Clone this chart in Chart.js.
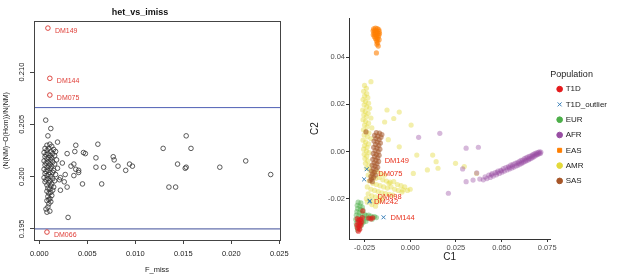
<!DOCTYPE html>
<html>
<head>
<meta charset="utf-8">
<script src="https://cdn.jsdelivr.net/npm/chart.js@4.4.1/dist/chart.umd.min.js"></script>
<style>
html, body { margin: 0; padding: 0; background: #fff; }
#wrap { position: relative; width: 617px; height: 275px; overflow: hidden; }
#left { position: absolute; left: 0; top: 0; }
#right { position: absolute; left: 300px; top: 0; }
</style>
</head>
<body>
<div id="wrap">
  <canvas id="left" width="300" height="275"></canvas>
  <canvas id="right" width="317" height="275"></canvas>
</div>
<script>
// ---------- left panel: het_vs_imiss ----------
var hetTicksX = [0, 0.005, 0.010, 0.015, 0.020, 0.025];
var hetTicksY = [0.195, 0.200, 0.205, 0.210];
var hetCutoffs = [0.1950, 0.2066];
// [F_miss, heterozygosity]
var hetSamples = [
  [0.00067,0.2054],[0.0012,0.2046],[0.0009,0.2039],[0.0153,0.2039],[0.0019,0.2033],[0.0038,0.2030],
  [0.0061,0.2031],[0.0129,0.2027],[0.0158,0.2027],[0.0029,0.2022],[0.0037,0.2024],[0.0046,0.2023],
  [0.0048,0.2022],[0.0059,0.2018],[0.0077,0.2019],[0.0078,0.2016],[0.0215,0.2015],[0.0024,0.2013],
  [0.0033,0.2010],[0.0036,0.2012],[0.0059,0.2009],[0.0067,0.2009],[0.0082,0.2010],[0.0094,0.2012],
  [0.0097,0.2010],[0.0144,0.2012],[0.0152,0.2008],[0.0153,0.2009],[0.0188,0.2009],[0.0090,0.2006],
  [0.0038,0.2007],[0.0041,0.2006],[0.0041,0.2004],[0.0027,0.2002],[0.0036,0.2001],[0.0241,0.2002],
  [0.0022,0.1999],[0.0021,0.1997],[0.0026,0.1995],[0.0029,0.1990],[0.0022,0.1987],[0.0045,0.1993],
  [0.0065,0.1993],[0.0135,0.1990],[0.0142,0.1990],[0.0030,0.1961],
  [0.0008,0.2030],[0.0011,0.2031],[0.0013,0.2029],[0.0006,0.2027],[0.0010,0.2027],[0.0015,0.2026],
  [0.0008,0.2025],[0.0012,0.2024],[0.0017,0.2024],[0.0005,0.2023],[0.0009,0.2022],[0.0014,0.2022],
  [0.0007,0.2021],[0.0011,0.2020],[0.0016,0.2020],[0.0006,0.2019],[0.0010,0.2018],[0.0013,0.2018],
  [0.0008,0.2017],[0.0012,0.2016],[0.0018,0.2016],[0.0005,0.2015],[0.0009,0.2014],[0.0014,0.2014],
  [0.0007,0.2013],[0.0011,0.2012],[0.0016,0.2012],[0.0006,0.2011],[0.0010,0.2010],[0.0013,0.2010],
  [0.0008,0.2009],[0.0012,0.2008],[0.0019,0.2008],[0.0005,0.2007],[0.0009,0.2006],[0.0015,0.2006],
  [0.0007,0.2005],[0.0011,0.2004],[0.0014,0.2004],[0.0006,0.2003],[0.0010,0.2002],[0.0017,0.2002],
  [0.0008,0.2001],[0.0012,0.2000],[0.0005,0.1999],[0.0009,0.1998],[0.0014,0.1998],[0.0007,0.1997],
  [0.0011,0.1996],[0.0016,0.1996],[0.0006,0.1995],[0.0010,0.1994],[0.0013,0.1993],[0.0008,0.1992],
  [0.0012,0.1991],[0.0015,0.1990],[0.0009,0.1989],[0.0011,0.1988],[0.0014,0.1987],[0.0008,0.1986],
  [0.0012,0.1985],[0.0010,0.1984],[0.0013,0.1982],[0.0009,0.1981],[0.0011,0.1979],[0.0008,0.1977],
  [0.0010,0.1974],[0.0009,0.1971],[0.0007,0.1969],[0.0008,0.1966],[0.0011,0.1967],[0.0010,0.1978],
  [0.0012,0.1976]
];
var hetOutlierIds = ['DM149', 'DM144', 'DM075', 'DM066'];
var hetOutlierFmiss = [0.0009, 0.0011, 0.0011, 0.0008];
var hetOutlierHet = [0.2142, 0.2094, 0.2078, 0.1947];

// ---------- right panel: PCA ----------
var pcaTicksX = [-0.025, 0, 0.025, 0.05, 0.075];
var pcaTicksY = [-0.02, 0, 0.02, 0.04];
var popNames = ['T1D', 'T1D_outlier', 'EUR', 'AFR', 'EAS', 'AMR', 'SAS'];
var popColors = ['#e41a1c', '#377eb8', '#4daf4a', '#984ea3', '#ff7f00', '#e3d93a', '#a65628'];

var pcaT1D = [
  [-0.0290,-0.0285],[-0.0280,-0.0290],[-0.0270,-0.0288],[-0.0286,-0.0300],[-0.0275,-0.0305],[-0.0265,-0.0298],
  [-0.0292,-0.0312],[-0.0280,-0.0318],[-0.0270,-0.0312],[-0.0288,-0.0325],[-0.0276,-0.0330],[-0.0284,-0.0338],
  [-0.0260,-0.0252],[-0.0228,-0.0282],[-0.0215,-0.0286],[-0.0205,-0.0281],[-0.0262,-0.0280]
];
var pcaOutlier = [[-0.0238,-0.0075],[-0.0252,-0.0118],[-0.0223,-0.0213],[-0.0221,-0.0209],[-0.0146,-0.0279]];
var pcaEUR = [
  [-0.0285,-0.0215],[-0.0270,-0.0218],[-0.0290,-0.0228],[-0.0275,-0.0232],[-0.0262,-0.0236],[-0.0288,-0.0242],
  [-0.0272,-0.0246],[-0.0258,-0.0250],[-0.0292,-0.0255],[-0.0278,-0.0258],[-0.0264,-0.0262],[-0.0250,-0.0266],
  [-0.0240,-0.0272],[-0.0228,-0.0270],[-0.0215,-0.0274],[-0.0205,-0.0278],[-0.0195,-0.0276],[-0.0185,-0.0280],
  [-0.0295,-0.0270],[-0.0282,-0.0274],[-0.0268,-0.0278],[-0.0255,-0.0282],[-0.0238,-0.0285],[-0.0222,-0.0283],
  [-0.0208,-0.0287],[-0.0298,-0.0288],[-0.0285,-0.0292],[-0.0270,-0.0296],[-0.0256,-0.0300],[-0.0242,-0.0296],
  [-0.0295,-0.0305],[-0.0282,-0.0310],[-0.0268,-0.0314],[-0.0292,-0.0320],[-0.0278,-0.0326],[-0.0288,-0.0333],
  [-0.0265,-0.0304]
];
var pcaAFR = [
  [0.0046,0.0060],[0.0162,0.0077],[0.0287,-0.0074],[0.0373,0.0018],[0.0306,0.0014],[0.0209,-0.0177],
  [0.0306,-0.0128],[0.0344,-0.0121],[0.0381,-0.0117],[0.0364,-0.0091],
  [0.0400,-0.0120],[0.0410,-0.0108],[0.0420,-0.0115],[0.0430,-0.0100],[0.0438,-0.0110],[0.0448,-0.0094],
  [0.0455,-0.0104],[0.0465,-0.0090],[0.0472,-0.0099],[0.0480,-0.0083],[0.0488,-0.0093],[0.0495,-0.0080],
  [0.0502,-0.0088],[0.0510,-0.0072],[0.0516,-0.0083],[0.0523,-0.0068],[0.0530,-0.0078],[0.0537,-0.0064],
  [0.0543,-0.0074],[0.0550,-0.0058],[0.0556,-0.0070],[0.0562,-0.0055],[0.0568,-0.0066],[0.0574,-0.0050],
  [0.0580,-0.0061],[0.0585,-0.0047],[0.0590,-0.0058],[0.0596,-0.0043],[0.0601,-0.0054],[0.0606,-0.0038],
  [0.0611,-0.0050],[0.0616,-0.0036],[0.0620,-0.0046],[0.0625,-0.0030],[0.0630,-0.0042],[0.0634,-0.0027],
  [0.0639,-0.0038],[0.0643,-0.0024],[0.0648,-0.0035],[0.0652,-0.0021],[0.0657,-0.0031],[0.0661,-0.0018],
  [0.0665,-0.0028],[0.0669,-0.0014],[0.0673,-0.0024],[0.0677,-0.0011],[0.0681,-0.0020],[0.0685,-0.0008],
  [0.0689,-0.0016],[0.0693,-0.0006],[0.0697,-0.0013],[0.0701,-0.0004],[0.0705,-0.0010],[0.0708,-0.0002],
  [0.0712,-0.0008],[0.0715,-0.0003],
  [0.0445,-0.0099],[0.0500,-0.0082],[0.0560,-0.0062],[0.0610,-0.0045],[0.0650,-0.0030],[0.0690,-0.0012],
  [0.0670,-0.0020],[0.0630,-0.0036],[0.0590,-0.0051],[0.0540,-0.0068],[0.0475,-0.0090]
];
var pcaEAS = [
  [-0.0200,0.0520],[-0.0190,0.0523],[-0.0180,0.0521],[-0.0172,0.0517],[-0.0203,0.0512],[-0.0193,0.0513],
  [-0.0183,0.0511],[-0.0170,0.0509],[-0.0198,0.0503],[-0.0188,0.0505],[-0.0178,0.0502],[-0.0168,0.0500],
  [-0.0202,0.0495],[-0.0192,0.0496],[-0.0182,0.0494],[-0.0172,0.0492],[-0.0196,0.0487],[-0.0186,0.0485],
  [-0.0176,0.0484],[-0.0190,0.0478],[-0.0180,0.0476],[-0.0170,0.0474],[-0.0184,0.0468],[-0.0178,0.0462],
  [-0.0182,0.0455],[-0.0175,0.0447],[-0.0185,0.0418]
];
var pcaAMR = [
  [-0.0250,0.0280],[-0.0240,0.0268],[-0.0255,0.0255],[-0.0238,0.0245],[-0.0250,0.0235],[-0.0232,0.0228],
  [-0.0258,0.0220],[-0.0245,0.0212],[-0.0228,0.0205],[-0.0252,0.0198],[-0.0238,0.0190],[-0.0222,0.0183],
  [-0.0260,0.0176],[-0.0246,0.0170],[-0.0230,0.0162],[-0.0254,0.0155],[-0.0240,0.0148],[-0.0215,0.0142],
  [-0.0258,0.0135],[-0.0244,0.0128],[-0.0228,0.0120],[-0.0250,0.0112],[-0.0236,0.0105],[-0.0210,0.0100],
  [-0.0256,0.0092],[-0.0242,0.0085],[-0.0226,0.0078],[-0.0252,0.0070],[-0.0235,0.0062],[-0.0215,0.0055],
  [-0.0258,0.0048],[-0.0244,0.0040],[-0.0228,0.0032],[-0.0250,0.0025],[-0.0236,0.0018],[-0.0255,0.0010],
  [-0.0240,0.0002],[-0.0226,-0.0005],[-0.0252,-0.0012],[-0.0238,-0.0020],[-0.0248,-0.0030],[-0.0232,-0.0040],
  [-0.0245,-0.0050],[-0.0225,-0.0060],[-0.0240,-0.0070],
  [-0.0215,0.0296],[-0.0127,0.0176],[-0.0060,0.0167],[-0.0090,0.0140],[-0.0140,0.0125],[0.0005,0.0112],
  [-0.0120,0.0050],[-0.0060,0.0020],[0.0036,-0.0015],[0.0123,-0.0015],[0.0142,-0.0043],[0.0152,-0.0071],
  [0.0094,-0.0078],[0.0248,-0.0050],[0.0296,-0.0064],[0.0363,-0.0093],[0.0017,-0.0093],[-0.0040,-0.0163],
  [0.0000,-0.0160],[-0.0116,-0.0135],
  [-0.0220,-0.0080],[-0.0200,-0.0090],[-0.0180,-0.0085],[-0.0160,-0.0095],[-0.0140,-0.0100],[-0.0230,-0.0100],
  [-0.0210,-0.0110],[-0.0190,-0.0115],[-0.0170,-0.0110],[-0.0150,-0.0120],[-0.0130,-0.0125],[-0.0110,-0.0130],
  [-0.0090,-0.0128],[-0.0070,-0.0140],[-0.0050,-0.0145],[-0.0030,-0.0150],[-0.0225,-0.0125],[-0.0205,-0.0135],
  [-0.0185,-0.0140],[-0.0165,-0.0145],[-0.0145,-0.0150],[-0.0125,-0.0155],[-0.0105,-0.0150],[-0.0085,-0.0160],
  [-0.0065,-0.0165],[-0.0045,-0.0172],[-0.0015,-0.0165],[-0.0235,-0.0150],[-0.0215,-0.0160],[-0.0195,-0.0165],
  [-0.0175,-0.0170],[-0.0155,-0.0175],[-0.0135,-0.0178],[-0.0115,-0.0182],[-0.0095,-0.0185],[-0.0230,-0.0180],
  [-0.0210,-0.0188],[-0.0190,-0.0192],[-0.0170,-0.0195],[-0.0150,-0.0198],[-0.0220,-0.0205],[-0.0200,-0.0210],
  [-0.0180,-0.0215],[-0.0165,-0.0208],[-0.0210,-0.0225],[-0.0190,-0.0232],[-0.0235,-0.0215],[-0.0240,-0.0200]
];
var pcaSAS = [
  [-0.0185,0.0080],[-0.0168,0.0078],[-0.0155,0.0072],[-0.0195,0.0068],[-0.0178,0.0065],[-0.0160,0.0060],
  [-0.0188,0.0055],[-0.0170,0.0050],[-0.0198,0.0044],[-0.0180,0.0040],[-0.0163,0.0036],[-0.0190,0.0030],
  [-0.0172,0.0025],[-0.0200,0.0018],[-0.0182,0.0015],[-0.0166,0.0010],[-0.0192,0.0004],[-0.0175,-0.0002],
  [-0.0202,-0.0008],[-0.0185,-0.0012],[-0.0170,-0.0016],[-0.0195,-0.0022],[-0.0178,-0.0027],[-0.0205,-0.0033],
  [-0.0188,-0.0037],[-0.0173,-0.0042],[-0.0198,-0.0048],[-0.0182,-0.0052],[-0.0208,-0.0058],[-0.0192,-0.0062],
  [-0.0178,-0.0067],[-0.0202,-0.0072],[-0.0187,-0.0077],[-0.0212,-0.0083],[-0.0196,-0.0088],[-0.0206,-0.0095],
  [-0.0190,-0.0100],[-0.0215,-0.0105],[-0.0200,-0.0110],[-0.0212,-0.0117],[-0.0220,-0.0123],[-0.0207,-0.0128],
  [-0.0242,0.0083]
];
var pcaLabelIds = ['DM149', 'DM075', 'DM098', 'DM242', 'DM144'];
var pcaLabelC1 = [-0.0140, -0.0175, -0.0179, -0.0198, -0.0108];
var pcaLabelC2 = [-0.0040, -0.0097, -0.0192, -0.0213, -0.0283];

function pts(arr) { return arr.map(function (p) { return {x: p[0], y: p[1]}; }); }
function fixedTicks(list) {
  return function (scale) { scale.ticks = list.map(function (v) { return {value: v}; }); };
}
var FONT = "'Liberation Sans', Arial, sans-serif";
Chart.defaults.font.family = FONT;

// ---------- left chart ----------
var leftPlugin = {
  id: 'rBox',
  afterDraw: function (chart) {
    var ctx = chart.ctx, a = chart.chartArea, ys = chart.scales.y, xs = chart.scales.x;
    ctx.save();
    ctx.strokeStyle = '#444';
    ctx.lineWidth = 1;
    ctx.strokeRect(a.left + 0.5, a.top + 0.5, a.right - a.left, a.bottom - a.top);
    // rotated y tick labels, R style
    ctx.fillStyle = '#222';
    ctx.font = '7.5px ' + FONT;
    ctx.textAlign = 'center';
    ctx.textBaseline = 'middle';
    hetTicksY.forEach(function (v) {
      ctx.save();
      ctx.translate(22, ys.getPixelForValue(v));
      ctx.rotate(-Math.PI / 2);
      ctx.fillText(v.toFixed(3), 0, 0);
      ctx.restore();
    });
    // x axis title
    ctx.fillText('F_miss', (a.left + a.right) / 2, 270);
    // outlier ids
    ctx.fillStyle = '#e0403a';
    ctx.font = '7px ' + FONT;
    ctx.textAlign = 'left';
    hetOutlierIds.forEach(function (id, i) {
      ctx.fillText(id, xs.getPixelForValue(hetOutlierFmiss[i]) + 7, ys.getPixelForValue(hetOutlierHet[i]) + 3);
    });
    ctx.restore();
  }
};

new Chart(document.getElementById('left'), {
  type: 'scatter',
  data: {
    datasets: [
      {
        label: 'outliers',
        data: hetOutlierFmiss.map(function (f, i) { return {x: f, y: hetOutlierHet[i]}; }),
        pointRadius: 2.3, pointBorderWidth: 0.9,
        borderColor: '#d9352f', backgroundColor: 'rgba(0,0,0,0)'
      },
      {
        label: 'samples',
        data: pts(hetSamples),
        pointRadius: 2.3, pointBorderWidth: 0.8,
        borderColor: '#333', backgroundColor: 'rgba(0,0,0,0)'
      },
      {
        label: 'upper', type: 'line',
        data: [{x: -1, y: hetCutoffs[1]}, {x: 1, y: hetCutoffs[1]}],
        borderColor: '#4f5fb4', borderWidth: 1, pointRadius: 0
      },
      {
        label: 'lower', type: 'line',
        data: [{x: -1, y: hetCutoffs[0]}, {x: 1, y: hetCutoffs[0]}],
        borderColor: '#3d4c98', borderWidth: 1, pointRadius: 0
      }
    ]
  },
  options: {
    animation: false,
    responsive: false,
    devicePixelRatio: 1,
    layout: { padding: { left: 0, right: 20, top: 0, bottom: 0 } },
    plugins: {
      legend: { display: false },
      tooltip: { enabled: false },
      title: {
        display: true,
        text: 'het_vs_imiss',
        color: '#111',
        font: { size: 9, weight: 'bold' },
        padding: { top: 7, bottom: 3.2 }
      }
    },
    scales: {
      x: {
        type: 'linear',
        min: -0.00055, max: 0.02507,
        afterBuildTicks: fixedTicks(hetTicksX),
        afterFit: function (s) { s.height = 35; },
        grid: { drawOnChartArea: false, drawTicks: true, tickLength: 4, color: '#444' },
        border: { display: true, color: '#444' },
        ticks: {
          color: '#222', font: { size: 7.5 }, padding: 5, maxRotation: 0,
          callback: function (v) { return v.toFixed(3); }
        }
      },
      y: {
        type: 'linear',
        min: 0.19394, max: 0.21488,
        afterBuildTicks: fixedTicks(hetTicksY),
        afterFit: function (s) { s.width = 34; },
        grid: { drawOnChartArea: false, drawTicks: true, tickLength: 4, color: '#444' },
        border: { display: true, color: '#444' },
        ticks: { display: false },
        title: { display: true, text: '(N(NM)\u2212O(Hom))/N(NM)', color: '#222', font: { size: 7 }, padding: { top: 2, bottom: 0 } }
      }
    }
  },
  plugins: [leftPlugin]
});

// ---------- right chart ----------
var labelPlugin = {
  id: 'pcaLabels',
  afterDatasetsDraw: function (chart) {
    var ctx = chart.ctx, xs = chart.scales.x, ys = chart.scales.y;
    ctx.save();
    ctx.fillStyle = '#e8301c';
    ctx.font = '7.5px ' + FONT;
    ctx.textAlign = 'left';
    ctx.textBaseline = 'middle';
    pcaLabelIds.forEach(function (id, i) {
      ctx.fillText(id, xs.getPixelForValue(pcaLabelC1[i]), ys.getPixelForValue(pcaLabelC2[i]));
    });
    ctx.restore();
  }
};

function popSet(name, arr, alpha, style) {
  var i = popNames.indexOf(name);
  var c = Chart.helpers.color(popColors[i]).alpha(alpha).rgbString();
  return {
    label: name,
    data: pts(arr),
    pointStyle: style || 'circle',
    pointRadius: style === 'crossRot' ? 2.8 : 2.6,
    pointBorderWidth: style === 'crossRot' ? 1 : 0,
    backgroundColor: c,
    borderColor: style === 'crossRot' ? popColors[i] : c
  };
}

new Chart(document.getElementById('right'), {
  type: 'scatter',
  data: {
    datasets: [
      popSet('T1D_outlier', pcaOutlier, 1, 'crossRot'),
      popSet('T1D', pcaT1D, 0.6),
      popSet('EUR', pcaEUR, 0.45),
      popSet('SAS', pcaSAS, 0.55),
      popSet('AFR', pcaAFR, 0.4),
      popSet('EAS', pcaEAS, 0.6),
      popSet('AMR', pcaAMR, 0.42)
    ]
  },
  options: {
    animation: false,
    responsive: false,
    devicePixelRatio: 1,
    layout: { padding: { left: 0, right: 0, top: 18, bottom: 0 } },
    plugins: {
      tooltip: { enabled: false },
      legend: {
        display: true,
        position: 'right',
        align: 'start',
        title: { display: true, text: 'Population', color: '#222', font: { size: 9 }, position: 'start', padding: { top: 52, bottom: -3 } },
        labels: {
          usePointStyle: true,
          boxWidth: 4, boxHeight: 4,
          padding: 7.3,
          color: '#222',
          font: { size: 8 },
          sort: function (a, b) { return popNames.indexOf(a.text) - popNames.indexOf(b.text); },
          generateLabels: function (chart) {
            var items = Chart.defaults.plugins.legend.labels.generateLabels(chart);
            items.forEach(function (it) {
              var c = popColors[popNames.indexOf(it.text)];
              it.fillStyle = c;
              it.strokeStyle = c;
              it.lineWidth = 1;
              if (it.text === 'EAS') it.pointStyle = 'rect';
            });
            return items;
          }
        }
      }
    },
    scales: {
      x: {
        type: 'linear',
        min: -0.0335, max: 0.0767,
        afterBuildTicks: fixedTicks(pcaTicksX),
        afterFit: function (s) { s.height = 36; },
        grid: { drawOnChartArea: false, drawTicks: true, tickLength: 3, color: '#333' },
        border: { display: true, color: '#333' },
        ticks: {
          color: '#4d4d4d', font: { size: 7.5 }, padding: 1, maxRotation: 0,
          callback: function (v) { return v.toFixed(3); }
        },
        title: { display: true, text: 'C1', color: '#222', font: { size: 10 }, padding: { top: 0, bottom: 12 } }
      },
      y: {
        type: 'linear',
        min: -0.0371, max: 0.0566,
        afterBuildTicks: fixedTicks(pcaTicksY),
        afterFit: function (s) { s.width = 49; },
        grid: { drawOnChartArea: false, drawTicks: true, tickLength: 3, color: '#333' },
        border: { display: true, color: '#333' },
        ticks: {
          color: '#4d4d4d', font: { size: 7.5 }, padding: 1,
          callback: function (v) { return v.toFixed(2); }
        },
        title: { display: true, text: 'C2', color: '#222', font: { size: 10 }, padding: { top: 9, bottom: 0 } }
      }
    }
  },
  plugins: [labelPlugin]
});
</script>
</body>
</html>
